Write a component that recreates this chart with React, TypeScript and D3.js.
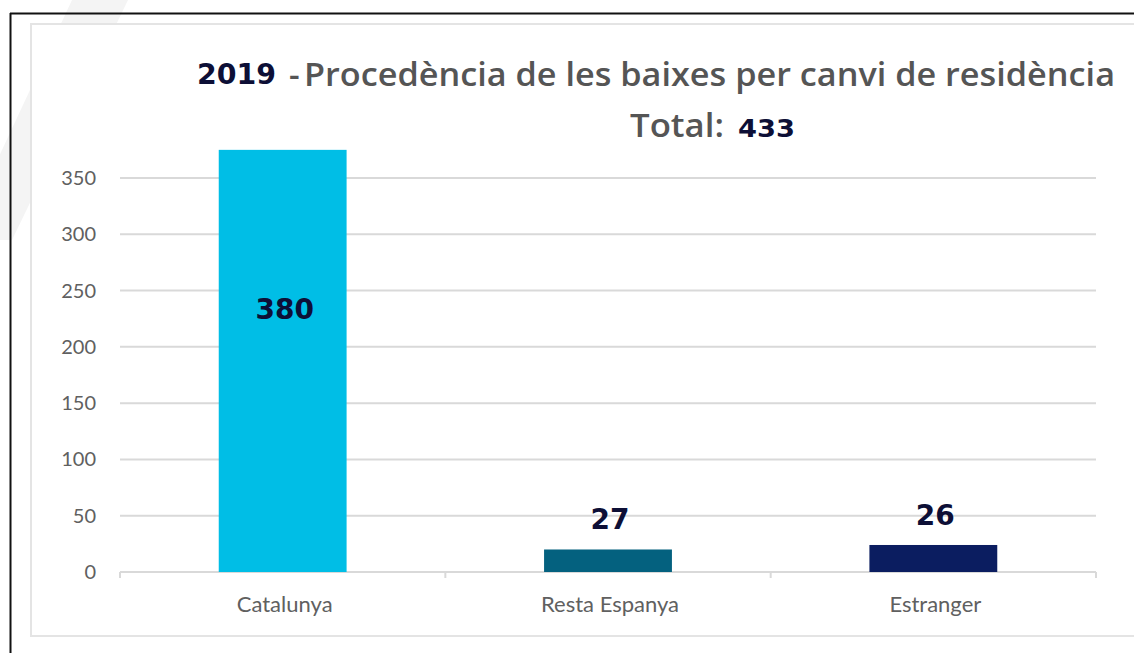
import React from "react";
import * as d3 from "d3";

const categories = ["Catalunya", "Resta Espanya", "Estranger"];
const barValues = [375, 20, 24];
const labelValues = ["380", "27", "26"];
const barColors = ["#00bee6", "#04617f", "#0b1d60"];
const yTicks = [0, 50, 100, 150, 200, 250, 300, 350];
const titleYear = "2019";
const titleText = "Procedència de les baixes per canvi de residència";
const totalLabel = "Total:";
const totalValue = "433";

const W = 1134;
const H = 653;
const plotLeft = 120;
const plotRight = 1096;

export default function App() {
  const x = d3.scaleBand<string>().domain(categories).range([plotLeft, plotRight]).paddingInner(0.607).paddingOuter(0.3035);
  const y = d3.scaleLinear().domain([0, 350]).range([572, 178]);
  const gray = "#555555";
  const navy = "#0d0f36";
  const boundaries = [plotLeft, ...categories.map((c) => (x(c) as number) + x.bandwidth() + (x.step() - x.bandwidth()) / 2)];
  return (
    <svg width={W} height={H} style={{ position: "absolute", left: 0, top: 0, background: "#fff" }}>
      <polygon points="72,0 128,0 12,240 -40,240" fill="#f4f4f4" />
      <rect x={31} y={24} width={1120} height={612} fill="#fff" stroke="#e4e4e4" strokeWidth={2} />
      <line x1={10.5} y1={13} x2={10.5} y2={H} stroke="#111" strokeWidth={2} />
      <line x1={10} y1={13.5} x2={W} y2={13.5} stroke="#111" strokeWidth={2} />
      {yTicks.map((t) => (
        <g key={t}>
          <line x1={plotLeft} x2={plotRight} y1={y(t)} y2={y(t)} stroke="#d9d9d9" strokeWidth={2} />
          <text x={96} y={y(t) + 7} textAnchor="end" fontFamily="Lato" fontSize={20} fill="#606060">{t}</text>
        </g>
      ))}
      {boundaries.map((b, i) => (
        <line key={i} x1={b} x2={b} y1={y(0)} y2={y(0) + 6} stroke="#d9d9d9" strokeWidth={2} />
      ))}
      {categories.map((c, i) => {
        const bx = x(c) as number;
        const cx = bx + x.bandwidth() / 2;
        const top = y(barValues[i]);
        const ly = barValues[i] > 100 ? y(barValues[i] * 0.6) : top - 20;
        return (
          <g key={c}>
            <rect x={bx} y={top} width={x.bandwidth()} height={y(0) - top} fill={barColors[i]} />
            <text x={cx + 2} y={ly} textAnchor="middle" fontFamily="DejaVu Sans" fontWeight="bold" fontSize={28} fill={navy}>{labelValues[i]}</text>
            <text x={cx + 2} y={612} textAnchor="middle" fontFamily="Lato" fontSize={22} fill="#606060">{c}</text>
          </g>
        );
      })}
      <text x={197} y={84} fontFamily="DejaVu Sans" fontWeight="bold" fontSize={28} fill={navy} textLength={79} lengthAdjust="spacingAndGlyphs">{titleYear}</text>
      <text x={289} y={86} fontFamily="Open Sans" fontWeight={600} fontSize={33} fill={gray}>-</text>
      <text x={304} y={86} fontFamily="Open Sans" fontWeight={600} fontSize={33} fill={gray} textLength={811} lengthAdjust="spacingAndGlyphs">{titleText}</text>
      <text x={630} y={137} fontFamily="Open Sans" fontWeight={600} fontSize={33} fill={gray} textLength={94} lengthAdjust="spacingAndGlyphs">{totalLabel}</text>
      <text x={738} y={137} fontFamily="DejaVu Sans" fontWeight="bold" fontSize={25} fill={navy} textLength={57} lengthAdjust="spacingAndGlyphs">{totalValue}</text>
    </svg>
  );
}
